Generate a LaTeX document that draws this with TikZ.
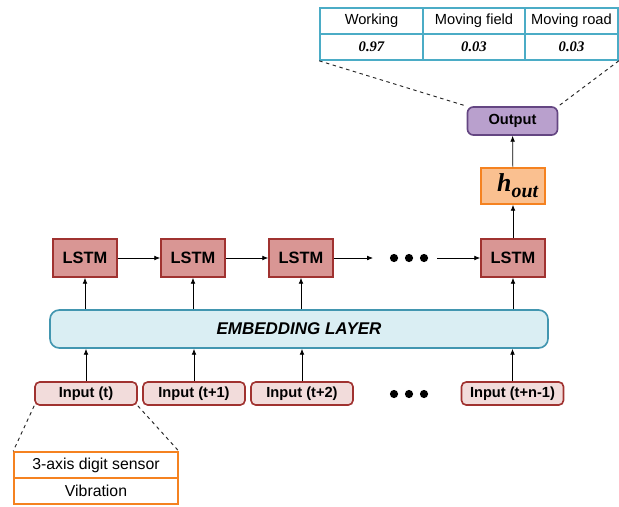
\documentclass[tikz,border=0pt]{standalone}
\usepackage{amsmath}
\usepackage{fontspec}
\setmainfont{Liberation Sans}
\newfontfamily\numfont{Liberation Serif}
\usetikzlibrary{arrows.meta, positioning, calc}
\definecolor{lstmfill}{RGB}{217, 150, 148}
\definecolor{lstmline}{RGB}{160, 50, 48}
\definecolor{infill}{RGB}{242, 220, 219}
\definecolor{embfill}{RGB}{218, 238, 243}
\definecolor{embline}{RGB}{66, 150, 176}
\definecolor{hfill}{RGB}{250, 192, 144}
\definecolor{hline}{RGB}{245, 130, 32}
\definecolor{outfill}{RGB}{185, 160, 205}
\definecolor{outline}{RGB}{100, 70, 130}
\definecolor{tabline}{RGB}{75, 172, 198}
\tikzset{
  arr/.style={-{Latex[length=5pt,width=4pt]}, semithick},
  lstmbox/.style={draw=lstmline, line width=1.4pt, fill=lstmfill, minimum width=1.92cm, minimum height=1.14cm, font=\fontsize{14}{16}\selectfont\bfseries},
  inbox/.style={draw=lstmline, line width=1.4pt, fill=infill, rounded corners=4pt, minimum width=3.06cm, minimum height=0.69cm, font=\fontsize{12.5}{14}\selectfont\bfseries},
  embbox/.style={draw=embline, line width=1.4pt, fill=embfill, rounded corners=8pt, minimum width=14.94cm, minimum height=1.14cm, font=\fontsize{14.5}{16}\selectfont\bfseries\itshape},
  hbox/.style={draw=hline, line width=1.4pt, fill=hfill, minimum width=1.92cm, minimum height=1.08cm, font=\numfont\fontsize{22}{24}\selectfont\bfseries\itshape},
  outbox/.style={draw=outline, line width=1.4pt, fill=outfill, rounded corners=5pt, minimum width=2.7cm, minimum height=0.84cm, font=\fontsize{12.5}{14}\selectfont\bfseries},
  topcell/.style={draw=tabline, line width=1.4pt, minimum height=0.78cm, inner sep=0pt, font=\fontsize{12.5}{14}\selectfont},
  valcell/.style={topcell, font=\numfont\fontsize{12.5}{14}\selectfont\bfseries\itshape},
  botcell/.style={draw=hline, line width=1.4pt, minimum width=4.92cm, minimum height=0.78cm, inner sep=0pt, font=\fontsize{13.5}{15}\selectfont},
  dot/.style={circle, fill=black, inner sep=0pt, minimum size=7pt},
  zoomline/.style={dashed, thick, black!85},
}
\begin{document}
\begin{tikzpicture}[x=0.03cm, y=-0.03cm]
  \useasboundingbox (0,0) rectangle (619,507);
  % output table
  \node[topcell, minimum width=3.09cm] (c11) at (371.5,21) {Working};
  \node[topcell, minimum width=3.06cm] (c12) at (474,21) {Moving field};
  \node[topcell, minimum width=2.79cm] (c13) at (571.5,21) {Moving road};
  \node[valcell, minimum width=3.09cm] (c21) at (371.5,47) {0.97};
  \node[valcell, minimum width=3.06cm] (c22) at (474,47) {0.03};
  \node[valcell, minimum width=2.79cm] (c23) at (571.5,47) {0.03};

  \node[outbox] (out) at (512.5,121) {Output};
  \node[hbox] (hout) at (513,186) {\hspace*{8pt}h\raisebox{-5pt}{\fontsize{17}{18}\selectfont out}};

  % recurrent layer
  \node[lstmbox] (l1) at (85,258) {LSTM};
  \node[lstmbox] (l2) at (193,258) {LSTM};
  \node[lstmbox] (l3) at (301,258) {LSTM};
  \node[lstmbox] (l4) at (513,258) {LSTM};
  \node[dot] (d1) at (394,258) {};
  \node[dot] (d2) at (409,258) {};
  \node[dot] (d3) at (424,258) {};
  \coordinate (dl) at (373,258);
  \coordinate (dr) at (437,258);

  \node[embbox] (emb) at (299,329) {EMBEDDING LAYER};

  % inputs
  \node[inbox] (i1) at (86,393.5) {Input (t)};
  \node[inbox] (i2) at (194,393.5) {Input (t+1)};
  \node[inbox] (i3) at (302,393.5) {Input (t+2)};
  \node[inbox] (i4) at (512.5,393.5) {Input (t+n-1)};
  \node[dot] (e1) at (394,394) {};
  \node[dot] (e2) at (409,394) {};
  \node[dot] (e3) at (424,394) {};

  % sensor table
  \node[botcell] (b1) at (96,465) {3-axis digit sensor};
  \node[botcell] (b2) at (96,491) {Vibration};

  \foreach \n in {1,...,4} {
    \draw[arr] (i\n.north) -- (i\n.north |- emb.south);
    \draw[arr] (l\n.south |- emb.north) -- (l\n.south);
  }
  \draw[arr] (l1) -- (l2);
  \draw[arr] (l2) -- (l3);
  \draw[arr] (l3) -- (dl);
  \draw[arr] (dr) -- (l4);
  \draw[arr] (l4) -- (hout);
  \draw[arr] (hout) -- (out);

  \draw[zoomline] (c21.south west) -- (out.north west);
  \draw[zoomline] (c23.south east) -- (out.north east);
  \draw[zoomline] (i1.south west) -- (b1.north west);
  \draw[zoomline] (i1.south east) -- (b1.north east);
\end{tikzpicture}
\end{document}
